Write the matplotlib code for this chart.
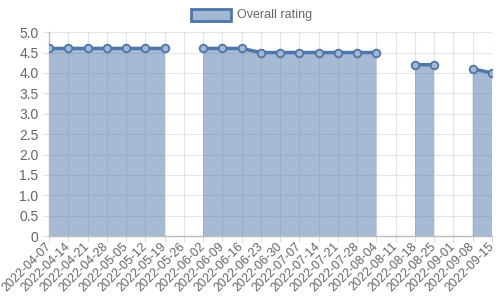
import numpy as np
import matplotlib.pyplot as plt
from matplotlib.patches import Rectangle

plt.rcParams['font.family'] = ['Liberation Sans', 'DejaVu Sans']

dates = ['2022-04-07', '2022-04-14', '2022-04-21', '2022-04-28', '2022-05-05',
         '2022-05-12', '2022-05-19', '2022-05-26', '2022-06-02', '2022-06-09',
         '2022-06-16', '2022-06-23', '2022-06-30', '2022-07-07', '2022-07-14',
         '2022-07-21', '2022-07-28', '2022-08-04', '2022-08-11', '2022-08-18',
         '2022-08-25', '2022-09-01', '2022-09-08', '2022-09-15']
rating = [4.6, 4.6, 4.6, 4.6, 4.6, 4.6, 4.6, None, 4.6, 4.6,
          4.6, 4.5, 4.5, 4.5, 4.5, 4.5, 4.5, 4.5, None, 4.2,
          4.2, None, 4.1, 4.0]

line_col = '#4e76a8'
fill_col = (78/255, 118/255, 168/255, 0.5)
text_col = '#666666'

x = np.arange(len(dates))
y = np.array([np.nan if v is None else v for v in rating])

fig = plt.figure(figsize=(5, 3), dpi=100)
ax = fig.add_axes([0.098, 0.213, 0.886, 0.68])

ax.fill_between(x, 0, y, color=fill_col, linewidth=0)
ax.plot(x, y, color=line_col, linewidth=2.5, zorder=3)
ax.plot(x, y, 'o', markersize=5.5, markerfacecolor='#a3b8d3',
        markeredgecolor=line_col, markeredgewidth=1.3, zorder=4)

ax.set_xlim(0, len(dates) - 1)
ax.set_ylim(0, 5.0)
ax.set_yticks(np.arange(0, 5.01, 0.5))
ax.set_yticklabels(['0'] + ['%.1f' % v for v in np.arange(0.5, 5.01, 0.5)])
ax.set_xticks(x)
ax.set_xticklabels(dates, rotation=45, ha='right', va='center',
                   rotation_mode='anchor')

ax.grid(True, color='#e5e5e5', linewidth=0.8)
ax.set_axisbelow(True)
for s in ['top', 'right']:
    ax.spines[s].set_visible(False)
for s in ['left', 'bottom']:
    ax.spines[s].set_color('#bbbbbb')
    ax.spines[s].set_linewidth(1)
ax.tick_params(colors=text_col, labelsize=9, length=4, width=0.8)
ax.tick_params(axis='both', color='#dddddd')
ax.tick_params(axis='x', pad=2)
ax.tick_params(axis='y', labelsize=10)

# legend box like chart.js
fig.patches.append(Rectangle((191/500, 1 - 21/300), 40/500, 12/300,
                             transform=fig.transFigure, facecolor='#a3b8d3',
                             edgecolor=line_col, linewidth=2))
fig.text(237/500, 1 - 15/300, 'Overall rating', color=text_col, fontsize=9,
         va='center', ha='left')

fig.savefig('out.png', dpi=100)
